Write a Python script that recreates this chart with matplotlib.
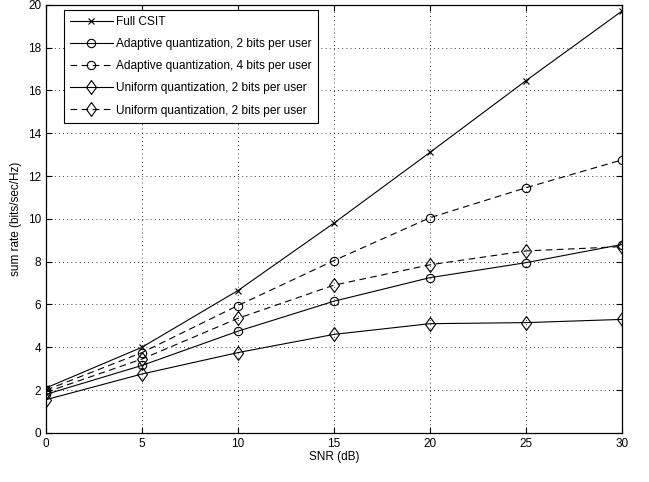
import numpy as np
import matplotlib
matplotlib.use('Agg')
import matplotlib.pyplot as plt

plt.rcParams['font.family'] = ['Liberation Sans', 'DejaVu Sans']

snr = [0, 5, 10, 15, 20, 25, 30]
full_csit = [2.1, 4.0, 6.65, 9.8, 13.1, 16.45, 19.7]
adapt_2 = [1.8, 3.15, 4.75, 6.15, 7.25, 7.95, 8.8]
adapt_4 = [2.0, 3.75, 5.95, 8.05, 10.05, 11.45, 12.75]
unif_2 = [1.55, 2.75, 3.75, 4.6, 5.1, 5.15, 5.3]
unif_2_dash = [1.9, 3.45, 5.35, 6.9, 7.85, 8.5, 8.7]

# matlab-style diamond, a bit taller than wide
diamond = [(0, 1), (0.72, 0), (0, -1), (-0.72, 0), (0, 1)]

fig = plt.figure(figsize=(6.49, 4.82), dpi=100)
ax = fig.add_axes([0.071, 0.102, 0.887, 0.888])

mk = dict(color='k', lw=0.8, markerfacecolor='none', markeredgecolor='k', markersize=6, mew=0.8)
ax.plot(snr, full_csit, '-', marker='x', label='Full CSIT', **{**mk, 'markersize': 4.5})
ax.plot(snr, adapt_2, '-', marker='o', label='Adaptive quantization, 2 bits per user', **mk)
ax.plot(snr, adapt_4, '--', marker='o', label='Adaptive quantization, 4 bits per user', dashes=(6, 4), **mk)
ax.plot(snr, unif_2, '-', marker=diamond, label='Uniform quantization, 2 bits per user',
        **{**mk, 'markersize': 10})
ax.plot(snr, unif_2_dash, '--', marker=diamond, label='Uniform quantization, 2 bits per user',
        dashes=(6, 4), **{**mk, 'markersize': 10})

ax.set_xlim(0, 30)
ax.set_ylim(0, 20)
ax.set_xticks(range(0, 31, 5))
ax.set_yticks(range(0, 21, 2))
ax.grid(True, linestyle=(0, (1, 4)), color='k', lw=0.6)
ax.tick_params(direction='in', labelsize=8.5, top=True, right=True, length=4)
for s in ax.spines.values():
    s.set_linewidth(0.9)
ax.set_xlabel('SNR (dB)', fontsize=8.5, labelpad=1)
ax.set_ylabel('sum rate (bits/sec/Hz)', fontsize=8.5, labelpad=4)

leg = ax.legend(loc='upper left', bbox_to_anchor=(0.031, 0.988), fontsize=8.6, fancybox=False,
                edgecolor='k', framealpha=1, handlelength=3.6, borderaxespad=0,
                labelspacing=0.85, borderpad=0.5, handletextpad=0.3)
leg.get_frame().set_linewidth(0.8)

fig.savefig('out.png', dpi=100)
